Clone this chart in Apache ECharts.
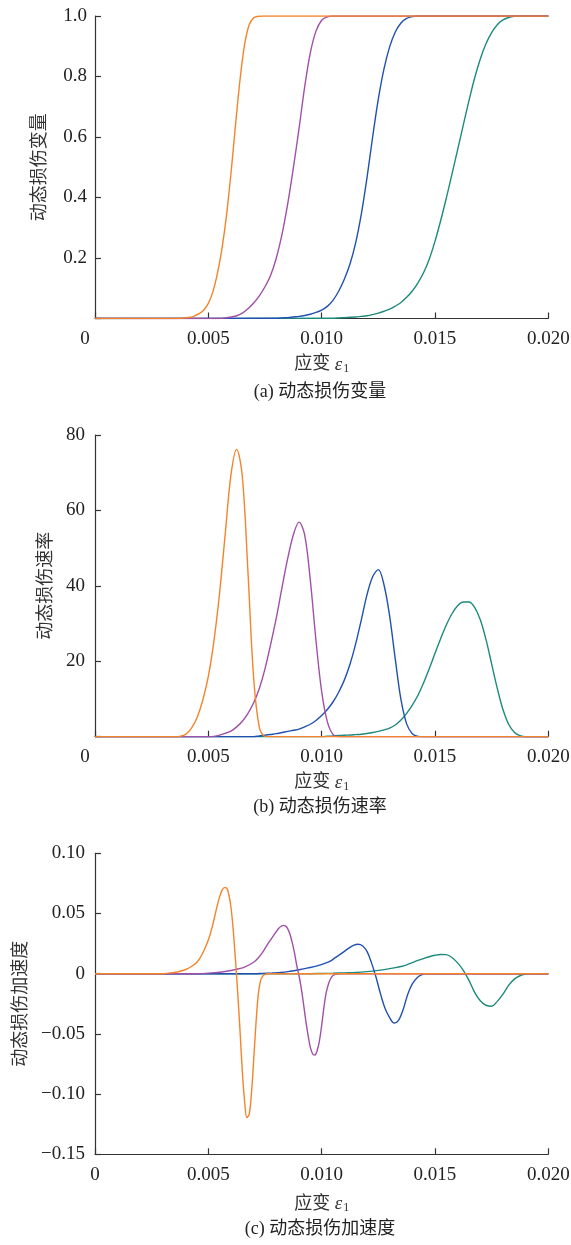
<!DOCTYPE html>
<html>
<head>
<meta charset="utf-8">
<title>动态损伤演化曲线</title>
<script src="https://cdn.jsdelivr.net/npm/echarts@6/dist/echarts.min.js"></script>
<style>
  html, body { margin: 0; padding: 0; background: #ffffff; }
  #chart { width: 571px; height: 1245px; }
</style>
</head>
<body>
<div id="chart"></div>
<script>
// Curve colours (four strain-rate cases)
const seriesColors = ['#1E8A7D', '#2051B0', '#A150A8', '#F5832A'];

// (a) 动态损伤变量 D — [strain ε1, value]
const damageTeal = [[0,0],[0.0105,0.001],[0.01075,0.002],[0.011,0.003],[0.01125,0.004],[0.0115,0.005],[0.01175,0.007],[0.012,0.009],[0.01225,0.013],[0.0125,0.018],[0.01275,0.024],[0.013,0.031],[0.01325,0.041],[0.0135,0.053],[0.01375,0.07],[0.014,0.091],[0.01425,0.118],[0.0145,0.152],[0.01475,0.197],[0.015,0.255],[0.01525,0.323],[0.0155,0.398],[0.01575,0.477],[0.016,0.558],[0.01625,0.64],[0.0165,0.72],[0.01675,0.795],[0.017,0.858],[0.01725,0.908],[0.0175,0.945],[0.01775,0.971],[0.018,0.987],[0.01825,0.995],[0.0185,0.999],[0.01875,1],[0.02,1]];
const damageBlue = [[0,0],[0.008,0.001],[0.00825,0.002],[0.0085,0.003],[0.00875,0.005],[0.009,0.007],[0.00925,0.01],[0.0095,0.014],[0.00975,0.02],[0.01,0.028],[0.01025,0.04],[0.0105,0.06],[0.01075,0.09],[0.011,0.13],[0.01125,0.18],[0.0115,0.25],[0.01175,0.345],[0.012,0.465],[0.01225,0.6],[0.0125,0.725],[0.01275,0.825],[0.013,0.898],[0.01325,0.947],[0.0135,0.977],[0.01375,0.992],[0.014,0.998],[0.01425,1],[0.02,1]];
const damagePurple = [[0,0],[0.0055,0],[0.00575,0.002],[0.006,0.005],[0.00625,0.009],[0.0065,0.018],[0.00675,0.032],[0.007,0.051],[0.00725,0.075],[0.0075,0.105],[0.00775,0.143],[0.008,0.2],[0.00825,0.278],[0.0085,0.378],[0.00875,0.497],[0.009,0.627],[0.00925,0.765],[0.0095,0.878],[0.00975,0.95],[0.01,0.986],[0.01025,0.997],[0.0105,1],[0.02,1]];
const damageOrange = [[0,0],[0.0036,0],[0.0038,0.001],[0.004,0.002],[0.0042,0.004],[0.0044,0.009],[0.0046,0.016],[0.0048,0.028],[0.005,0.05],[0.0052,0.088],[0.0054,0.148],[0.0056,0.23],[0.0058,0.34],[0.006,0.48],[0.0062,0.64],[0.0064,0.79],[0.0066,0.905],[0.0068,0.97],[0.007,0.994],[0.0072,0.999],[0.0074,1],[0.02,1]];

// (b) 动态损伤速率
const rateTeal = [[0,0],[0.01,0],[0.01025,0.1],[0.0105,0.2],[0.01075,0.3],[0.011,0.4],[0.01125,0.45],[0.0115,0.55],[0.01175,0.65],[0.012,0.85],[0.01225,1.1],[0.0125,1.4],[0.01275,1.8],[0.013,2.3],[0.01325,3.1],[0.0135,4.4],[0.01375,6.2],[0.014,8.4],[0.01425,11],[0.0145,14.3],[0.01475,18.1],[0.015,22.1],[0.01525,26],[0.0155,29.6],[0.01575,32.6],[0.016,34.7],[0.01625,35.7],[0.0165,35.7],[0.01675,34.3],[0.017,31],[0.01725,25.8],[0.0175,19.3],[0.01775,12.8],[0.018,7.2],[0.01825,3.3],[0.0185,1.2],[0.01875,0.3],[0.019,0],[0.02,0]];
const rateBlue = [[0,0],[0.007,0],[0.00725,0.2],[0.0075,0.4],[0.00775,0.6],[0.008,0.8],[0.00825,1.1],[0.0085,1.4],[0.00875,1.7],[0.009,2],[0.00925,2.6],[0.0095,3.3],[0.00975,4.3],[0.01,5.6],[0.01025,7.2],[0.0105,9.2],[0.01075,11.8],[0.011,15],[0.01125,19.2],[0.0115,24.6],[0.01175,31],[0.012,37.6],[0.01225,42.4],[0.0125,44.3],[0.01275,40.3],[0.013,32],[0.01325,20.5],[0.0135,9.8],[0.01375,3.4],[0.014,0.8],[0.01425,0.1],[0.0145,0],[0.02,0]];
const ratePurple = [[0,0],[0.005,0],[0.00525,0.1],[0.0055,0.4],[0.00575,0.9],[0.006,1.5],[0.00625,2.6],[0.0065,4.1],[0.00675,6.2],[0.007,9],[0.00725,12.8],[0.0075,18],[0.00775,24.5],[0.008,31.5],[0.00825,39.5],[0.0085,47.2],[0.00875,53.5],[0.009,56.9],[0.00925,53.5],[0.0095,41.5],[0.00975,25.5],[0.01,12],[0.01025,4],[0.0105,0.6],[0.01075,0],[0.02,0]];
const rateOrange = [[0,0],[0.0035,0],[0.00375,0.1],[0.004,0.6],[0.00425,2.2],[0.0045,5],[0.00475,9.6],[0.005,16],[0.00525,25.5],[0.0055,38.3],[0.00575,54],[0.006,69.5],[0.00625,76.2],[0.0065,69],[0.00675,43.5],[0.007,15.5],[0.00725,2.5],[0.0075,0.1],[0.00775,0],[0.02,0]];

// (c) 动态损伤加速度
const accelTeal = [[0,0],[0.0095,0],[0.01,0.0002],[0.0105,0.0004],[0.011,0.0007],[0.0115,0.001],[0.012,0.0017],[0.0125,0.0028],[0.013,0.0042],[0.01325,0.005],[0.0135,0.006],[0.01375,0.0074],[0.014,0.0092],[0.01425,0.011],[0.0145,0.0126],[0.01475,0.0141],[0.015,0.0153],[0.01525,0.016],[0.0155,0.0158],[0.01575,0.0135],[0.016,0.009],[0.01625,0.0028],[0.0165,-0.0055],[0.01675,-0.0155],[0.017,-0.0225],[0.01725,-0.0262],[0.0175,-0.027],[0.01775,-0.023],[0.018,-0.017],[0.01825,-0.0097],[0.0185,-0.0045],[0.01875,-0.0017],[0.019,-0.0004],[0.01925,0],[0.02,0]];
const accelBlue = [[0,0],[0.007,0],[0.0074,0.0003],[0.0078,0.0006],[0.0082,0.001],[0.0086,0.002],[0.009,0.0033],[0.0094,0.0048],[0.0098,0.0065],[0.0102,0.009],[0.0104,0.0107],[0.0106,0.0133],[0.0108,0.0158],[0.011,0.0185],[0.0112,0.0213],[0.0114,0.0235],[0.0116,0.0245],[0.0118,0.0232],[0.012,0.0185],[0.0122,0.009],[0.0124,-0.003],[0.0126,-0.017],[0.0128,-0.029],[0.013,-0.0365],[0.0132,-0.041],[0.0134,-0.0385],[0.0136,-0.0295],[0.0138,-0.017],[0.014,-0.0085],[0.0142,-0.0035],[0.0144,-0.001],[0.0146,0],[0.02,0]];
const accelPurple = [[0,0],[0.0046,0],[0.005,0.0005],[0.0054,0.001],[0.0058,0.002],[0.0062,0.0035],[0.0066,0.0055],[0.007,0.0095],[0.0072,0.013],[0.0074,0.018],[0.0076,0.024],[0.0078,0.0295],[0.008,0.035],[0.0081,0.0375],[0.0082,0.0392],[0.0083,0.0401],[0.0084,0.0398],[0.0085,0.0375],[0.0086,0.033],[0.0087,0.026],[0.0088,0.0175],[0.0089,0.007],[0.009,-0.0015],[0.0091,-0.012],[0.0092,-0.025],[0.0093,-0.039],[0.0094,-0.051],[0.0095,-0.061],[0.0096,-0.0665],[0.0097,-0.0675],[0.0098,-0.064],[0.0099,-0.056],[0.01,-0.043],[0.0101,-0.028],[0.0102,-0.016],[0.0103,-0.0085],[0.0104,-0.004],[0.0105,-0.0015],[0.0106,-0.0005],[0.0108,0],[0.02,0]];
const accelOrange = [[0,0],[0.003,0],[0.00325,0.0005],[0.0035,0.001],[0.00375,0.002],[0.004,0.0035],[0.00425,0.006],[0.0045,0.0095],[0.00475,0.017],[0.005,0.028],[0.0051,0.034],[0.0052,0.041],[0.0053,0.049],[0.0054,0.057],[0.0055,0.064],[0.0056,0.069],[0.0057,0.0715],[0.0058,0.0713],[0.0059,0.066],[0.006,0.055],[0.0061,0.036],[0.0062,0.011],[0.0063,-0.017],[0.0064,-0.048],[0.0065,-0.081],[0.0066,-0.106],[0.0067,-0.1195],[0.0068,-0.117],[0.0069,-0.1],[0.007,-0.072],[0.0071,-0.042],[0.0072,-0.018],[0.0073,-0.006],[0.0074,-0.002],[0.0075,-0.0005],[0.0076,0],[0.02,0]];

const panelSeries = [
  [damageTeal, damageBlue, damagePurple, damageOrange],
  [rateTeal, rateBlue, ratePurple, rateOrange],
  [accelTeal, accelBlue, accelPurple, accelOrange]
];
const yAxisNames = ['动态损伤变量', '动态损伤速率', '动态损伤加速度'];
const captions = ['(a) 动态损伤变量', '(b) 动态损伤速率', '(c) 动态损伤加速度'];

const SERIF = '"Liberation Serif", "Noto Sans CJK SC", serif';
const TEXT = '#222';
const AXIS = '#333';

const grids = [
  { left: 95, width: 453.3, top: 16, height: 302.5 },
  { left: 95, width: 453.3, top: 435, height: 301.7 },
  { left: 95, width: 453.3, top: 853.3, height: 301 }
];

const yRanges = [
  { min: 0, max: 1, interval: 0.2, fmt: v => (v === 0 ? '' : v.toFixed(1)), gap: 46, margin: 8 },
  { min: 0, max: 80, interval: 20, fmt: v => (v === 0 ? '' : String(v)), gap: 38, margin: 10 },
  { min: -0.15, max: 0.1, interval: 0.05, fmt: v => {
      const r = Math.round(v * 100) / 100;
      if (r === 0) return '0';
      return (r < 0 ? '\u2212' : '') + Math.abs(r).toFixed(2);
    }, gap: 65, margin: 10 }
];
const xNameGaps = [36, 36, 40];

const axisLineStyle = { show: true, onZero: false, lineStyle: { color: AXIS, width: 1.2 } };
const tickStyle = { show: true, inside: true, length: 6, lineStyle: { color: AXIS, width: 1.2 } };

const xAxes = grids.map((g, i) => ({
  type: 'value',
  gridIndex: i,
  min: 0,
  max: 0.02,
  interval: 0.005,
  axisLine: axisLineStyle,
  axisTick: tickStyle,
  splitLine: { show: false },
  axisLabel: {
    margin: 11,
    color: TEXT,
    fontFamily: SERIF,
    fontSize: 19,
    formatter: v => (v === 0 ? (i < 2 ? '{z|0}' : '0') : v.toFixed(3)),
    rich: { z: { fontFamily: SERIF, fontSize: 19, color: TEXT, padding: [0, 20, 0, 0] } }
  },
  name: '应变 {i|ε}{s|1}',
  nameLocation: 'middle',
  nameGap: xNameGaps[i],
  nameTextStyle: {
    color: '#333',
    fontFamily: SERIF,
    fontSize: 18,
    rich: {
      i: { fontFamily: SERIF, fontStyle: 'italic', fontSize: 19, color: '#333' },
      s: { fontFamily: SERIF, fontSize: 12, color: '#333', padding: [8, 0, 0, 1] }
    }
  }
}));

const yAxes = grids.map((g, i) => ({
  type: 'value',
  gridIndex: i,
  min: yRanges[i].min,
  max: yRanges[i].max,
  interval: yRanges[i].interval,
  axisLine: axisLineStyle,
  axisTick: tickStyle,
  splitLine: { show: false },
  axisLabel: {
    margin: yRanges[i].margin,
    color: TEXT,
    fontFamily: SERIF,
    fontSize: 19,
    formatter: yRanges[i].fmt
  },
  name: yAxisNames[i],
  nameLocation: 'middle',
  nameGap: yRanges[i].gap,
  nameRotate: 90,
  nameTextStyle: { color: '#333', fontFamily: SERIF, fontSize: 18 }
}));

const series = [];
panelSeries.forEach((list, p) => {
  list.forEach((pts, k) => {
    series.push({
      type: 'line',
      xAxisIndex: p,
      yAxisIndex: p,
      data: pts,
      showSymbol: false,
      symbol: 'none',
      smooth: 0.35,
      lineStyle: { color: seriesColors[k], width: 1.4 },
      itemStyle: { color: seriesColors[k] },
      z: 2 + k,
      silent: true
    });
  });
});

const captionY = [392, 807, 1229];
const graphics = captions.map((t, i) => ({
  type: 'text',
  x: 320,
  y: captionY[i],
  style: {
    text: t,
    fill: '#222',
    font: '18px ' + SERIF,
    textAlign: 'center',
    textVerticalAlign: 'middle'
  }
}));

const chart = echarts.init(document.getElementById('chart'), null, { renderer: 'canvas' });
chart.setOption({
  backgroundColor: '#ffffff',
  animation: false,
  grid: grids.map(g => Object.assign({ containLabel: false, outerBoundsMode: 'none' }, g)),
  xAxis: xAxes,
  yAxis: yAxes,
  series: series,
  graphic: graphics
});
</script>
</body>
</html>
